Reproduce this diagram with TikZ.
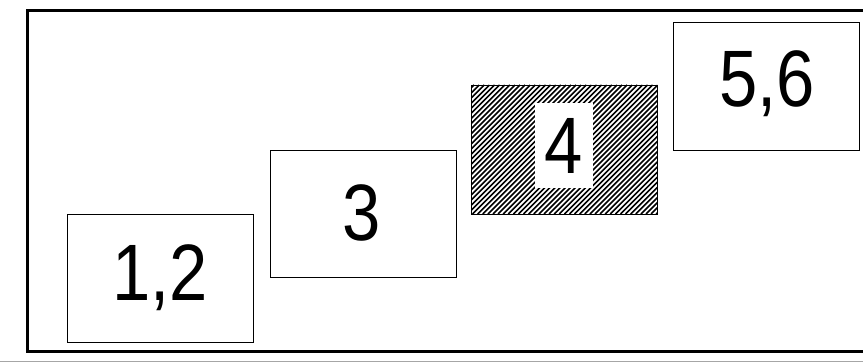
\documentclass[tikz,border=0pt]{standalone}
\usepackage{fontspec}
\usepackage{graphicx}
\setmainfont{Liberation Sans}
\begin{document}
\begin{tikzpicture}[x=1pt,y=-1pt,
  box/.style={draw=black,line width=1.3pt,inner sep=0pt,anchor=north west},
  lbl/.style={font=\fontsize{80}{80}\selectfont,inner sep=0pt},
  hatch/.style={line width=1.6pt}]
\useasboundingbox (0,0) rectangle (863,363);
% gray base line
\draw[gray!70,line width=1.2pt] (0,361.5) -- (863,361.5);
% outer frame (right side beyond picture)
\draw[line width=3pt] (880,10.5) -- (27,10.5) -- (27,351.5) -- (880,351.5);
% hatching of box 4
\begin{scope}
  \clip (471,85) rectangle (657,214);
  \foreach \i in {0,...,64} {
    \draw[hatch] (340+\i*5.1,214) -- ++(129,-129);
  }
\end{scope}
% boxes
\node[box,minimum width=186pt,minimum height=128pt] (b12) at (67,214) {};
\node[box,minimum width=186pt,minimum height=127pt] (b3) at (270,150) {};
\node[box,minimum width=186pt,minimum height=128pt] (b56) at (673,22) {};
\node[box,minimum width=186pt,minimum height=129pt] (b4) at (471,85) {};
\node[lbl] (t12) at (160,278) {\scalebox{0.86}[1]{1,2}};
\node[lbl] (t3) at (362,213) {\scalebox{0.86}[1]{3}};
\node[lbl] (t56) at (767,84) {\scalebox{0.86}[1]{5,6}};
\node[fill=white,minimum width=58pt,minimum height=85pt,inner sep=0pt] (w4) at (564,145.5) {};
\node[lbl] (t4) at (w4) {\scalebox{0.86}[1]{4}};
\end{tikzpicture}
\end{document}
